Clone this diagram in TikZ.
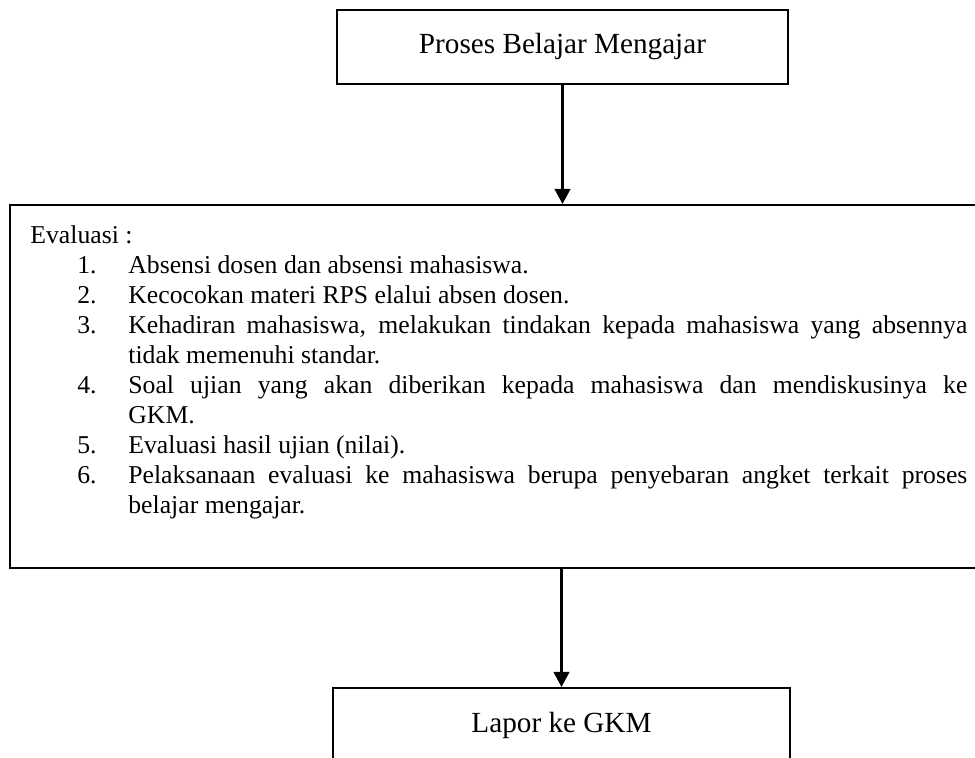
\documentclass[tikz,border=0pt]{standalone}
\usepackage{fontspec}
\setmainfont{Liberation Serif}
\usepackage{enumitem}
\usetikzlibrary{arrows.meta,positioning,calc}

\begin{document}
\begin{tikzpicture}[
    x=0.5pt, y=-0.5pt,
    box/.style={draw, line width=1pt, font=\fontsize{14.6pt}{17pt}\selectfont},
    evaltext/.style={inner sep=0pt, anchor=north west, text width=468.5pt, align=justify,
        font=\fontsize{12.85pt}{15pt}\selectfont},
    arr/.style={line width=1.1pt, -{Triangle[length=7.5pt, width=7.8pt]}},
]
\useasboundingbox (0,0) rectangle (975,758);
% Proses Belajar Mengajar
\node[box, minimum width=225.5pt, minimum height=37pt] (pbm) at (562.5,47) {Proses Belajar Mengajar};
% Evaluasi box (right side runs off the page)
\node[box, minimum width=484pt, minimum height=181.5pt, anchor=north west] (evl) at (9,204) {};
\node[evaltext] (evltxt) at (30,225) {\sloppy Evaluasi :\par
  \begin{enumerate}[leftmargin=49pt, labelwidth=25.5pt, labelsep=0pt, align=left,
      topsep=0pt, partopsep=0pt, itemsep=0pt, parsep=0pt]
  \item Absensi dosen dan absensi mahasiswa.
  \item Kecocokan materi RPS elalui absen dosen.
  \item Kehadiran mahasiswa, melakukan tindakan kepada mahasiswa yang absennya\linebreak tidak memenuhi standar.
  \item Soal ujian yang akan diberikan kepada mahasiswa dan mendiskusinya ke\linebreak GKM.
  \item Evaluasi hasil ujian (nilai).
  \item Pelaksanaan evaluasi ke mahasiswa berupa penyebaran angket terkait proses\linebreak belajar mengajar.
  \end{enumerate}};
% Lapor ke GKM
\node[box, minimum width=228.5pt, minimum height=37pt, anchor=north] (gkm) at (561.5,687) {Lapor ke GKM};
% connectors
\draw[arr] (pbm.south) -- (pbm.south |- evl.north);
\draw[arr] (gkm.north |- evl.south) -- (gkm.north);
\end{tikzpicture}
\end{document}
